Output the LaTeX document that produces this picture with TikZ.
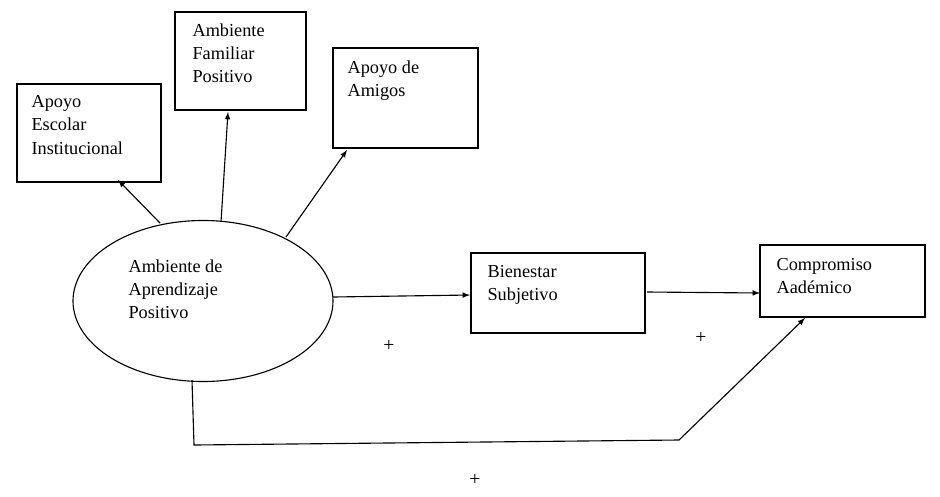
\documentclass[tikz,border=0pt]{standalone}
\usepackage{fontspec}
\setmainfont{Liberation Serif}
\usetikzlibrary{arrows,shapes,positioning,calc}
\begin{document}
\begin{tikzpicture}[x=0.025cm,y=-0.025cm]
\useasboundingbox (0,0) rectangle (940,496);
\tikzset{caja/.style={draw, thick, anchor=north west, align=left, inner sep=0pt, font=\fontsize{13}{16.5}\selectfont}}
% Boxes
\draw[thick] (17,84) rectangle (161,182);
\node[caja,draw=none] (escolar) at (31,95) {Apoyo\\Escolar\\Institucional};
\draw[thick] (175,12) rectangle (306,110);
\node[caja,draw=none] (familiar) at (192,23) {Ambiente\\Familiar\\Positivo};
\draw[thick] (333,48) rectangle (478,148);
\node[caja,draw=none] (amigos) at (347,60) {Apoyo de\\Amigos};
\draw[thick] (471,253) rectangle (645,333);
\node[caja,draw=none] (bienestar) at (487,265) {Bienestar\\Subjetivo};
\draw[thick] (760,245) rectangle (925,317);
\node[caja,draw=none] (compromiso) at (776,258) {Compromiso\\Aadémico};
% Ellipse
\node[draw, thick, ellipse, minimum width=260*0.025cm, minimum height=161*0.025cm] (ambiente) at (203,301) {};
\node[caja,draw=none] (ambtxt) at (128,259) {Ambiente de\\Aprendizaje\\Positivo};
% Connectors
\coordinate (c1) at (118,180);
\coordinate (c2) at (228,112);
\coordinate (c3) at (347,150);
\coordinate (c4) at (470,295);
\coordinate (c5) at (760,293);
\draw[thick,-latex] (160,223) -- (c1);
\draw[thick,-latex] (221,222) -- (c2);
\draw[thick,-latex] (286,237) -- (c3);
\draw[thick,-latex] (333,297) -- (c4);
\draw[thick,-latex] (647,292) -- (c5);
\coordinate (c6) at (805,318);
\draw[thick,-latex] (192,380) -- (194,445) -- (679,440) -- (c6);
% Signs
\node[font=\fontsize{14}{16}\selectfont] (p1) at (389,346) {+};
\node[font=\fontsize{14}{16}\selectfont] (p2) at (701,338) {+};
\node[font=\fontsize{14}{16}\selectfont] (p3) at (475,480) {+};
\end{tikzpicture}
\end{document}
